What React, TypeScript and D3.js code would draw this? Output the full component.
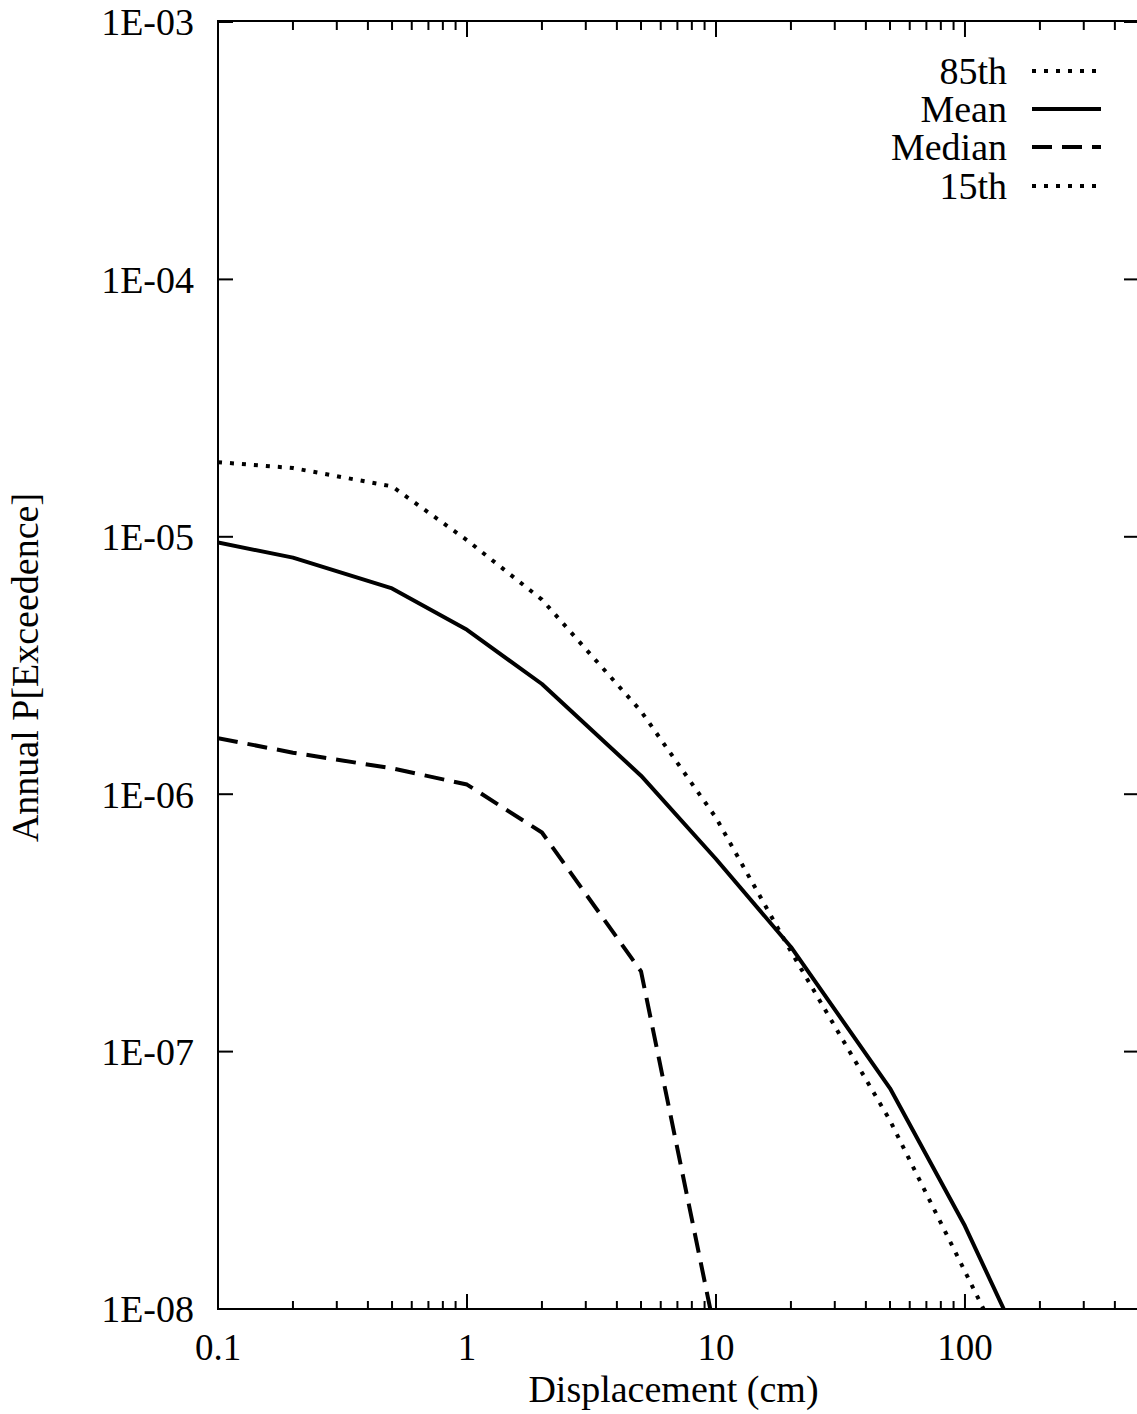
import React, { useEffect } from "react";
import * as d3 from "d3";

const displacement = [0.1, 0.2, 0.5, 1, 2, 5, 10, 20, 50, 100, 200, 500];
const p85 = [1.95e-5, 1.85e-5, 1.57e-5, 9.7e-6, 5.7e-6, 2.1e-6, 8.1e-7, 2.45e-7, 5.4e-8, 1.4e-8, 3.6e-9, 5e-10];
const mean = [9.5e-6, 8.3e-6, 6.3e-6, 4.35e-6, 2.68e-6, 1.18e-6, 5.6e-7, 2.55e-7, 7.2e-8, 2.1e-8, 5e-9, 8e-10];
const median = [1.65e-6, 1.45e-6, 1.26e-6, 1.09e-6, 7.1e-7, 2.05e-7, 7.8e-9, 1e-10, 1e-11, 1e-12, 1e-13, 1e-14];
const p15 = [8e-9, 7e-9, 6e-9, 5e-9, 3e-9, 1e-9, 2e-10, 1e-11, 1e-12, 1e-13, 1e-14, 1e-15];

const xTickValues = [0.1, 1, 10, 100];
const xTickLabels = ["0.1", "1", "10", "100"];
const yTickValues = [1e-3, 1e-4, 1e-5, 1e-6, 1e-7, 1e-8];
const yTickLabels = ["1E-03", "1E-04", "1E-05", "1E-06", "1E-07", "1E-08"];
const seriesNames = ["85th", "Mean", "Median", "15th"];

const W = 1137;
const H = 1414;
const left = 218;
const right = 1139;
const top = 22;
const bottom = 1309;
const FONT = "'Liberation Serif', 'Times New Roman', serif";

const styles: Record<string, { dash: string; cap: "butt" | "round" | "square" }> = {
  "85th": { dash: "4 8", cap: "butt" },
  Mean: { dash: "", cap: "butt" },
  Median: { dash: "20 10", cap: "butt" },
  "15th": { dash: "4 8", cap: "butt" },
};

export default function App() {
  useEffect(() => {
    document.body.style.margin = "0";
  }, []);

  const x = d3.scaleLog().domain([0.1, 500]).range([left, right]);
  const y = d3.scaleLog().domain([1e-8, 1e-3]).range([bottom, top]);

  const seriesValues = [p85, mean, median, p15];
  const line = d3
    .line<[number, number]>()
    .x((d) => x(d[0]))
    .y((d) => y(d[1]));

  const minorX: number[] = [];
  [0.1, 1, 10, 100].forEach((dec) => {
    for (let k = 2; k <= 9; k++) {
      const v = dec * k;
      if (v <= 500) minorX.push(v);
    }
  });

  const legendY = [71, 109, 147, 186];

  return (
    <svg width={W} height={H} style={{ display: "block", background: "#fff" }} fontFamily={FONT}>
      <defs>
        <clipPath id="plotClip">
          <rect x={left} y={top} width={right - left} height={bottom - top} />
        </clipPath>
      </defs>
      <rect x={0} y={0} width={W} height={H} fill="#fff" />

      {/* series */}
      <g clipPath="url(#plotClip)">
        {seriesNames.map((name, i) => (
          <path
            key={name}
            d={line(displacement.map((d, j) => [d, seriesValues[i][j]] as [number, number])) || ""}
            fill="none"
            stroke="#000"
            strokeWidth={4}
            strokeDasharray={styles[name].dash}
            strokeLinecap={styles[name].cap}
            strokeLinejoin="round"
          />
        ))}
      </g>

      {/* frame */}
      <rect x={left} y={top - 1} width={right - left} height={bottom - top + 1} fill="none" stroke="#000" strokeWidth={2} />

      {/* x ticks */}
      {xTickValues.map((v) => (
        <g key={"xt" + v}>
          <line x1={x(v)} x2={x(v)} y1={bottom} y2={bottom - 15} stroke="#000" strokeWidth={2} />
          <line x1={x(v)} x2={x(v)} y1={top} y2={top + 15} stroke="#000" strokeWidth={2} />
        </g>
      ))}
      {minorX.map((v) => (
        <g key={"xm" + v}>
          <line x1={x(v)} x2={x(v)} y1={bottom} y2={bottom - 8} stroke="#000" strokeWidth={2} />
          <line x1={x(v)} x2={x(v)} y1={top} y2={top + 8} stroke="#000" strokeWidth={2} />
        </g>
      ))}
      {xTickValues.map((v, i) => (
        <text key={"xl" + v} x={x(v)} y={1360} textAnchor="middle" fontSize={37} fill="#000">
          {xTickLabels[i]}
        </text>
      ))}

      {/* y ticks */}
      {yTickValues.map((v, i) => (
        <g key={"yt" + v}>
          <line x1={left} x2={left + 15} y1={y(v)} y2={y(v)} stroke="#000" strokeWidth={2} />
          <line x1={right} x2={right - 15} y1={y(v)} y2={y(v)} stroke="#000" strokeWidth={2} />
          <text x={194} y={y(v)} dy="0.35em" textAnchor="end" fontSize={38} fill="#000">
            {yTickLabels[i]}
          </text>
        </g>
      ))}

      {/* axis labels */}
      <text x={(left + right) / 2 - 5} y={1402} textAnchor="middle" fontSize={38} fill="#000">
        Displacement (cm)
      </text>
      <text
        transform={`translate(38, ${(top + bottom) / 2 + 2}) rotate(-90)`}
        textAnchor="middle"
        fontSize={38}
        fill="#000"
      >
        Annual P[Exceedence]
      </text>

      {/* legend */}
      {seriesNames.map((name, i) => (
        <g key={"lg" + name}>
          <text x={1007} y={legendY[i]} dy="0.35em" textAnchor="end" fontSize={38} fill="#000">
            {name}
          </text>
          <line
            x1={1032}
            x2={1101}
            y1={legendY[i]}
            y2={legendY[i]}
            stroke="#000"
            strokeWidth={4}
            strokeDasharray={styles[name].dash}
            strokeLinecap={styles[name].cap}
          />
        </g>
      ))}
    </svg>
  );
}
